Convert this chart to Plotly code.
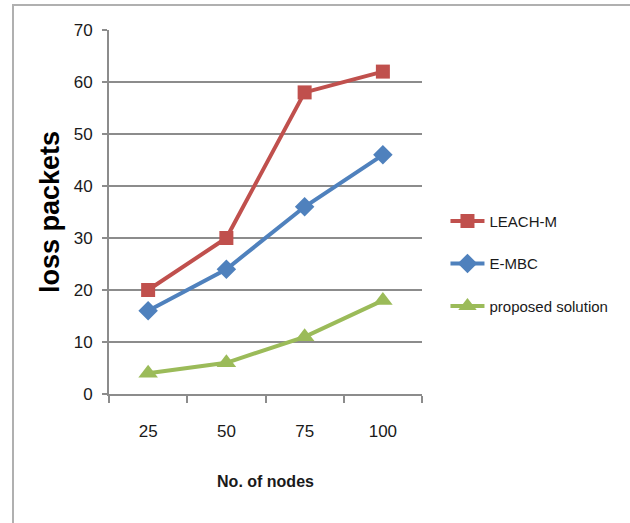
import plotly.graph_objects as go

# Number of nodes in the network and packets lost by each protocol
nodes = ["25", "50", "75", "100"]
leach_m = [20, 30, 58, 62]
e_mbc = [16, 24, 36, 46]
proposed = [4, 6, 11, 18]

series = [
    ("LEACH-M", leach_m, "#C0504D", "square", 14),
    ("E-MBC", e_mbc, "#4F81BD", "diamond", 15),
    ("proposed solution", proposed, "#9BBB59", "triangle-up", 17),
]

sans = "Liberation Sans, Arial, sans-serif"

fig = go.Figure()
for i, (name, vals, color, symbol, msize) in enumerate(series):
    fig.add_trace(go.Scatter(
        x=nodes, y=vals, name=name, mode="lines+markers",
        line=dict(color=color, width=4),
        marker=dict(symbol=symbol, size=msize, color=color),
        legendgroup=f"g{i}",
    ))

fig.update_layout(
    width=630, height=523,
    margin=dict(l=109, r=208, t=30, b=129),
    paper_bgcolor="white", plot_bgcolor="white",
    font=dict(family=sans, size=16, color="#1a1a1a"),
    legend=dict(
        x=1.075, y=0.52, xanchor="left", yanchor="top",
        font=dict(family=sans, size=15, color="#1a1a1a"),
        tracegroupgap=20, itemwidth=34,
    ),
    xaxis=dict(
        type="category", range=[-0.5, 3.5], showgrid=False,
        showline=True, linecolor="#8c8c8c", linewidth=2,
        ticks="outside", tickson="boundaries", ticklen=7,
        tickcolor="#8c8c8c", tickwidth=1.5,
        tickfont=dict(size=17),
        ticklabelstandoff=21,
        title=dict(text="<b>No. of nodes</b>", standoff=35,
                   font=dict(family=sans, size=16, color="#1a1a1a")),
    ),
    yaxis=dict(
        range=[0, 70], dtick=10,
        showgrid=True, gridcolor="#8c8c8c", gridwidth=2,
        showline=True, linecolor="#8c8c8c", linewidth=2,
        zeroline=False,
        ticks="outside", ticklen=5, tickcolor="#8c8c8c", tickwidth=1.5,
        tickfont=dict(size=17),
        ticklabelstandoff=6,
        title=dict(text="<b>loss packets</b>", standoff=6,
                   font=dict(family=sans, size=27, color="black")),
    ),
    shapes=[dict(
        type="rect", xref="paper", yref="paper",
        x0=(13 - 109) / 313, x1=2.0,
        y0=-1.0, y1=1 + (30 - 5) / 364,
        line=dict(color="#b0b0b0", width=2), layer="below",
    )],
)

fig.write_html("out.html")
